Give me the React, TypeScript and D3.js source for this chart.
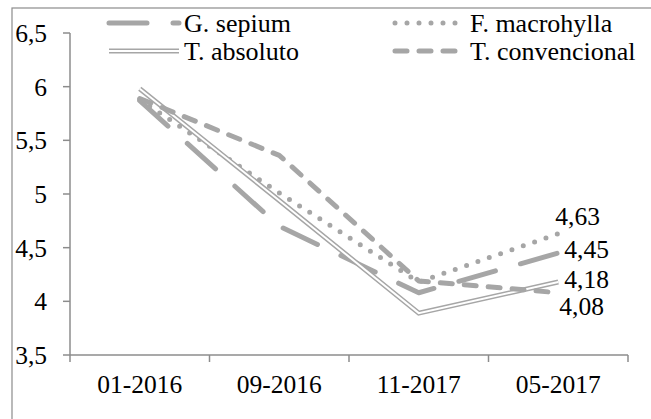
import React from "react";
import * as d3 from "d3";

const categories = ["01-2016", "09-2016", "11-2017", "05-2017"];
const gSepium = [5.87, 4.70, 4.08, 4.45];
const fMacrohylla = [5.88, 5.01, 4.18, 4.63];
const tAbsoluto = [5.98, 4.94, 3.89, 4.18];
const tConvencional = [5.89, 5.36, 4.19, 4.08];
const yTicks = [3.5, 4, 4.5, 5, 5.5, 6, 6.5];
const endLabels = ["4,63", "4,45", "4,18", "4,08"];

const W = 651;
const H = 419;
const GRAY = "#a6a6a6";
const AXIS = "#8c8c8c";
const FONT = "Liberation Serif";

type Style = { dash?: string; width: number; double?: boolean; cap: "round" | "butt" };
const series: { name: string; values: number[]; style: Style }[] = [
  { name: "G. sepium", values: gSepium, style: { dash: "38 26", width: 5, cap: "round" } },
  { name: "F. macrohylla", values: fMacrohylla, style: { dash: "0 12", width: 5, cap: "round" } },
  { name: "T. absoluto", values: tAbsoluto, style: { width: 5, double: true, cap: "butt" } },
  { name: "T. convencional", values: tConvencional, style: { dash: "12 12", width: 5, cap: "round" } },
];

const fmt = (v: number) => String(v).replace(".", ",");

export default function App() {
  const x = d3.scaleBand<string>().domain(categories).range([70, 628]);
  const y = d3.scaleLinear().domain([3.5, 6.5]).range([355, 33]);
  const cx = (c: string) => (x(c) ?? 0) + x.bandwidth() / 2;
  const line = d3
    .line<number>()
    .x((_, i) => cx(categories[i]))
    .y((v) => y(v));

  const bounds = [...categories.map((c) => x(c) ?? 0), 628];

  const legendRows = [23, 51];
  const legendCols = [109, 395];
  const sampleLen = 70;

  const lastX = cx(categories[categories.length - 1]);
  const labelPos = [
    { dx: -3, y: y(fMacrohylla[3]) - 9 },
    { dx: 6, y: y(gSepium[3]) + 5 },
    { dx: 6, y: y(tAbsoluto[3]) + 6 },
    { dx: 1, y: y(tConvencional[3]) + 22 },
  ];

  const renderPath = (d: string, s: Style, key: string) =>
    s.double ? (
      <g key={key}>
        <path d={d} fill="none" stroke={GRAY} strokeWidth={s.width} strokeLinejoin="miter" />
        <path d={d} fill="none" stroke="#fff" strokeWidth={2} strokeLinejoin="miter" />
      </g>
    ) : (
      <path
        key={key}
        d={d}
        fill="none"
        stroke={GRAY}
        strokeWidth={s.width}
        strokeDasharray={s.dash}
        strokeLinecap={s.cap}
        strokeLinejoin="round"
      />
    );

  return (
    <svg width={W} height={H} style={{ position: "absolute", left: 0, top: 0 }}>
      <style>{`text { font-family: "Liberation Serif"; }`}</style>
      <rect x={0} y={0} width={W} height={H} fill="#fff" />
      <rect x={12} y={8} width={W + 20} height={H + 20} fill="none" stroke={AXIS} strokeWidth={1.2} />

      <line x1={70} x2={70} y1={y(6.5)} y2={y(3.5)} stroke={AXIS} strokeWidth={1.5} />
      {yTicks.map((t) => (
        <g key={t}>
          <line x1={63} x2={70} y1={y(t)} y2={y(t)} stroke={AXIS} strokeWidth={1.5} />
          <text x={47} y={y(t)} dy="0.35em" textAnchor="end" fontSize={25.5} style={{ fontFamily: FONT }}>
            {fmt(t)}
          </text>
        </g>
      ))}

      <line x1={70} x2={628} y1={y(3.5)} y2={y(3.5)} stroke={AXIS} strokeWidth={1.5} />
      {bounds.map((b, i) => (
        <line key={i} x1={b} x2={b} y1={y(3.5)} y2={y(3.5) + 7} stroke={AXIS} strokeWidth={1.5} />
      ))}
      {categories.map((c) => (
        <text key={c} x={cx(c)} y={393} textAnchor="middle" fontSize={25.5} style={{ fontFamily: FONT }}>
          {c}
        </text>
      ))}

      {series.map((s) => renderPath(line(s.values) ?? "", s.style, s.name))}

      {endLabels.map((l, i) => (
        <text key={l} x={lastX + labelPos[i].dx} y={labelPos[i].y} fontSize={25.5} style={{ fontFamily: FONT }}>
          {l}
        </text>
      ))}

      {series.map((s, i) => {
        const lx = legendCols[i % 2];
        const ly = legendRows[Math.floor(i / 2)];
        const d = `M${lx},${ly}L${lx + sampleLen},${ly}`;
        return (
          <g key={s.name}>
            {renderPath(d, s.style, s.name + "-l")}
            <text x={lx + sampleLen + 5} y={ly + 8.5} fontSize={26} style={{ fontFamily: FONT }}>
              {s.name}
            </text>
          </g>
        );
      })}
    </svg>
  );
}
